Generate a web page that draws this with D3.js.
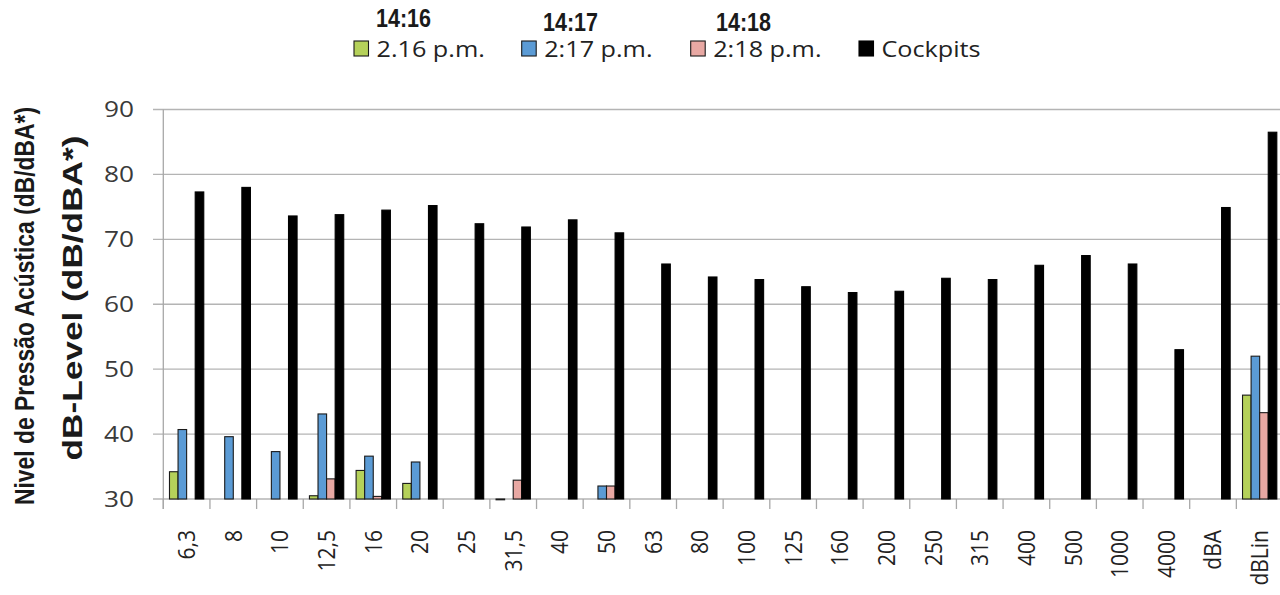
<!DOCTYPE html>
<html><head><meta charset="utf-8">
<script src="https://cdn.jsdelivr.net/npm/d3@7"></script>
<style>body{margin:0;background:#fff;overflow:hidden} svg{display:block}</style>
</head><body>
<script>
const categories = ["6,3","8","10","12,5","16","20","25","31,5","40","50","63","80","100","125","160","200","250","315","400","500","1000","4000","dBA","dBLin"];
const seriesNames = ["2.16 p.m.","2:17 p.m.","2:18 p.m.","Cockpits"];
const seriesHeaders = ["14:16","14:17","14:18",""];
const green216 = [34.2,null,null,30.5,34.4,32.4,null,30.0,null,null,null,null,null,null,null,null,null,null,null,null,null,null,null,46.0];
const blue217  = [40.7,39.6,37.3,43.1,36.6,35.7,null,null,null,32.0,null,null,null,null,null,null,null,null,null,null,null,null,null,52.0];
const pink218  = [null,null,null,33.1,30.4,null,null,32.9,null,32.0,null,null,null,null,null,null,null,null,null,null,null,null,null,43.3];
const cockpits = [77.3,78.0,73.6,73.8,74.5,75.2,72.4,71.9,73.0,71.0,66.2,64.2,63.8,62.7,61.8,62.0,64.0,63.8,66.0,67.5,66.2,53.0,74.9,86.5];
const yTicks = [30,40,50,60,70,80,90];

const seriesData = [green216, blue217, pink218, cockpits];
const colors = ["#b5d15a","#5b9bd5","#e8a8a3","#000000"];
const strokes = ["#1a1a1a","#1a1a1a","#1a1a1a","#000000"];

const W = 1280, H = 595;
const svg = d3.select("body").append("svg").attr("width", W).attr("height", H);

const x = d3.scaleBand().domain(categories).range([163.3, 1283]).paddingInner(0.265).paddingOuter(0.1325);
const x1 = d3.scaleBand().domain(d3.range(4)).range([0, x.bandwidth()]);
const y = d3.scaleLinear().domain([30, 90]).range([499, 109.5]);
const step = x.step();
const x0 = 163.3;

// gridlines
svg.append("g").selectAll("line").data(yTicks).join("line")
  .attr("x1", 153).attr("x2", 1283)
  .attr("y1", d => y(d)).attr("y2", d => y(d))
  .attr("stroke", "#b4b4b4").attr("stroke-width", 1.3);

// y axis line
svg.append("line").attr("x1", x0).attr("x2", x0).attr("y1", y(90)).attr("y2", 509)
  .attr("stroke", "#a8a8a8").attr("stroke-width", 1.3);

// x tick marks at band boundaries
svg.append("g").selectAll("line").data(d3.range(categories.length + 1)).join("line")
  .attr("x1", i => x0 + i * step).attr("x2", i => x0 + i * step)
  .attr("y1", y(30)).attr("y2", 509)
  .attr("stroke", "#a8a8a8").attr("stroke-width", 1.3);

// bars
seriesData.forEach((vals, s) => {
  svg.append("g").selectAll("rect")
    .data(vals.map((v, i) => ({v, c: categories[i]})).filter(d => d.v !== null))
    .join("rect")
    .attr("x", d => x(d.c) + x1(s))
    .attr("width", x1.bandwidth())
    .attr("y", d => y(d.v))
    .attr("height", d => Math.max(0.8, y(30) - y(d.v)))
    .attr("fill", colors[s])
    .attr("stroke", strokes[s]).attr("stroke-width", 1.1);
});

// y tick labels
svg.append("g").selectAll("text").data(yTicks).join("text")
  .attr("transform", d => `translate(134,${y(d)}) scale(1.25,1)`)
  .attr("text-anchor", "end").attr("dy", "0.36em")
  .attr("font-family", "'Open Sans', sans-serif").attr("font-size", 21)
  .attr("fill", "#3a3a3a")
  .text(d => d);

// x tick labels
svg.append("g").selectAll("text").data(categories).join("text")
  .attr("transform", d => `translate(${x(d) + x.bandwidth() / 2},530) rotate(-90) scale(1,1.12)`)
  .attr("text-anchor", "end").attr("dy", "0.36em")
  .attr("font-family", "'Open Sans', sans-serif").attr("font-size", 21)
  .attr("fill", "#222")
  .text(d => d);

// y axis titles
svg.append("text")
  .attr("transform", "translate(34,306) rotate(-90)")
  .attr("text-anchor", "middle")
  .attr("font-family", "'Liberation Sans Narrow','Liberation Sans', Arial, sans-serif")
  .attr("font-weight", "bold").attr("font-size", 28)
  .attr("textLength", 398).attr("lengthAdjust", "spacingAndGlyphs")
  .attr("fill", "#1a1a1a")
  .text("Nivel de Pressão Acústica (dB/dBA*)");
svg.append("text")
  .attr("transform", "translate(82,298) rotate(-90)")
  .attr("text-anchor", "middle")
  .attr("font-family", "'Liberation Sans', Arial, sans-serif")
  .attr("font-weight", "bold").attr("font-size", 27)
  .attr("textLength", 325).attr("lengthAdjust", "spacingAndGlyphs")
  .attr("fill", "#1a1a1a")
  .text("dB-Level (dB/dBA*)");

// legend
const legendX = [354, 521.7, 690.7, 859];
const headerPos = [[376, 27.3], [543, 30.7], [716, 30.7]];
seriesNames.forEach((name, s) => {
  const g = svg.append("g");
  g.append("rect").attr("x", legendX[s]).attr("y", 41).attr("width", 14.5).attr("height", 15)
    .attr("fill", colors[s]).attr("stroke", strokes[s]).attr("stroke-width", 1.1);
  g.append("text")
    .attr("transform", `translate(${legendX[s] + 22.5},57) scale(1.2,1)`)
    .attr("font-family", "'Open Sans', sans-serif").attr("font-size", 21)
    .attr("fill", "#222")
    .text(name);
  if (seriesHeaders[s]) {
    g.append("text")
      .attr("x", headerPos[s][0]).attr("y", headerPos[s][1])
      .attr("font-family", "'Liberation Sans Narrow','Liberation Sans', Arial, sans-serif")
      .attr("font-weight", "bold").attr("font-size", 25)
      .attr("textLength", 55).attr("lengthAdjust", "spacingAndGlyphs")
      .attr("fill", "#1a1a1a")
      .text(seriesHeaders[s]);
  }
});
</script>
</body></html>
